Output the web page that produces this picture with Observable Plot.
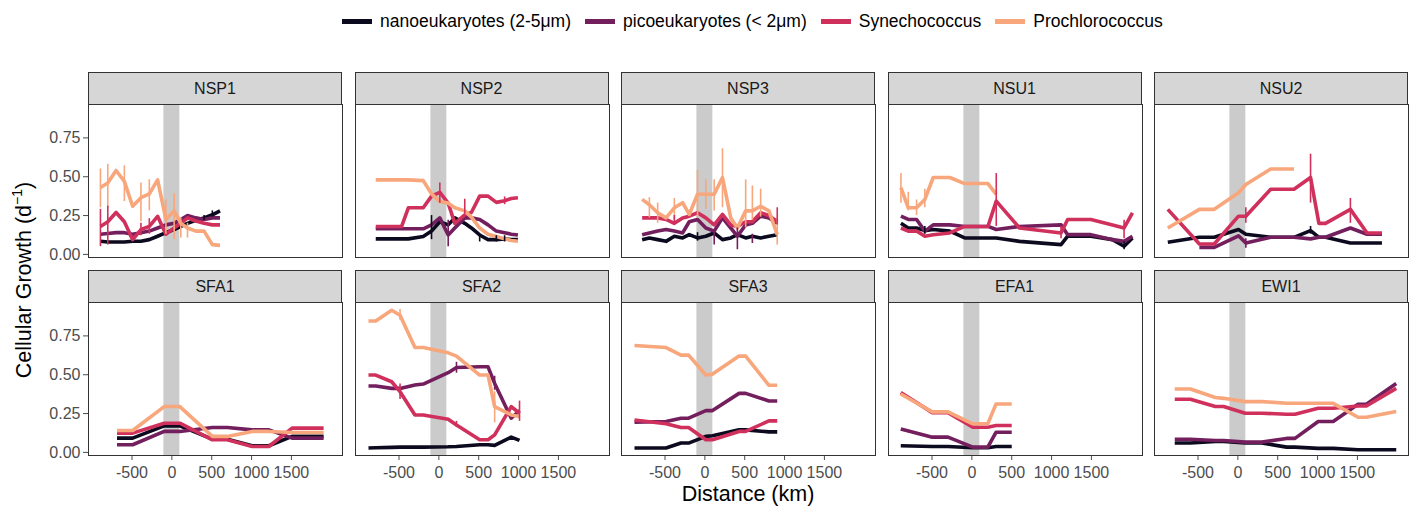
<!DOCTYPE html>
<html><head><meta charset="utf-8">
<script src="https://cdn.jsdelivr.net/npm/d3@7"></script>
<script src="https://cdn.jsdelivr.net/npm/@observablehq/plot@0.6"></script>
<style>
body{margin:0;background:#fff;font-family:"Liberation Sans",Arial,Helvetica,sans-serif;}
#root{position:relative;width:1412px;height:506px;overflow:hidden;background:#fff;}
.strip{position:absolute;box-sizing:border-box;background:#d6d6d6;border:1px solid #333;font-size:16px;color:#1a1a1a;display:flex;align-items:center;justify-content:center;}
.pl{position:absolute;}
#legend{position:absolute;top:11px;left:342px;display:flex;align-items:center;font-size:17.5px;color:#000;white-space:nowrap;}
#legend .item{display:flex;align-items:center;margin-right:14px;}
#legend .sw{width:30px;height:5px;margin-right:8px;}
.title{position:absolute;font-size:21.5px;color:#000;white-space:nowrap;}
</style></head><body><div id="root"></div>
<script>
// ---------- data ----------
const seriesKeys = ["nano", "pico", "syn", "pro"];
const seriesLabels = ["nanoeukaryotes (2-5μm)", "picoeukaryotes (< 2μm)", "Synechococcus", "Prochlorococcus"];
const seriesColors = ["#0c0a1e", "#731f5e", "#d0305c", "#f8a67c"];
const panelNames = ["NSP1", "NSP2", "NSP3", "NSU1", "NSU2", "SFA1", "SFA2", "SFA3", "EFA1", "EWI1"];
const yTicks = [0, 0.25, 0.5, 0.75];
const xTicks = [-500, 0, 500, 1000, 1500];
const xDomain = [-1046, 2141];
const yDomain = [-0.02, 0.965];
const bandKm = [-100, 100];

const x_NSP1 = [-896,-804,-700,-596,-492,-388,-283,-179,-75,29,112,196,300,404,508,604];
const nano_NSP1 = [0.085,0.08,0.08,0.08,0.085,0.085,0.095,0.117,0.14,0.16,0.18,0.2,0.22,0.235,0.255,0.28];
const pico_NSP1 = [0.13,0.135,0.14,0.14,0.13,0.14,0.15,0.17,0.19,0.2,0.225,0.25,0.235,0.225,0.235,0.235];
const syn_NSP1 = [0.18,0.21,0.27,0.21,0.095,0.16,0.18,0.245,0.13,0.17,0.2,0.235,0.215,0.2,0.19,0.19];
const pro_NSP1 = [0.43,0.46,0.54,0.47,0.31,0.365,0.39,0.48,0.225,0.28,0.2,0.17,0.15,0.15,0.063,0.058];
const err_NSP1 = [["pro",-896,0.30,0.55],["pro",-804,0.30,0.58],["pro",-596,0.34,0.57],["pro",-388,0.21,0.46],["pro",-283,0.28,0.48],["pro",-75,0.13,0.35],["pro",29,0.095,0.39],["pro",112,0.105,0.235],["pro",196,0.105,0.2],["syn",-896,0.05,0.29],["syn",-804,0.06,0.31],["syn",-388,0.12,0.2],["syn",-283,0.13,0.23],["nano",404,0.22,0.25],["nano",508,0.24,0.28]];

const x_NSP2 = [-792,-467,-383,-196,-92,12,117,200,325,408,512,617,721,825,908,992];
const nano_NSP2 = [0.1,0.1,0.1,0.115,0.15,0.21,0.19,0.235,0.2,0.17,0.125,0.095,0.095,0.1,0.095,0.095];
const pico_NSP2 = [0.165,0.165,0.165,0.165,0.19,0.235,0.125,0.17,0.235,0.235,0.225,0.19,0.15,0.14,0.13,0.125];
const syn_NSP2 = [0.18,0.18,0.3,0.3,0.375,0.4,0.33,0.2,0.255,0.27,0.375,0.375,0.335,0.345,0.36,0.365];
const pro_NSP2 = [0.48,0.48,0.48,0.475,0.39,0.34,0.33,0.3,0.28,0.24,0.17,0.13,0.115,0.1,0.09,0.085];
const err_NSP2 = [["syn",12,0.33,0.46],["pico",117,0.05,0.22],["nano",-92,0.095,0.25],["syn",325,0.26,0.355],["nano",512,0.08,0.13],["nano",721,0.08,0.12],["nano",825,0.08,0.12],["syn",825,0.32,0.37]];

const x_NSP3 = [-787,-696,-592,-487,-383,-279,-196,-92,12,117,221,325,408,512,596,700,804,908];
const nano_NSP3 = [0.095,0.106,0.095,0.084,0.117,0.106,0.127,0.106,0.117,0.138,0.095,0.106,0.127,0.106,0.117,0.106,0.117,0.127];
const pico_NSP3 = [0.127,0.138,0.15,0.16,0.15,0.138,0.21,0.225,0.17,0.15,0.235,0.17,0.117,0.19,0.2,0.246,0.235,0.2];
const syn_NSP3 = [0.235,0.235,0.235,0.225,0.2,0.235,0.246,0.268,0.235,0.19,0.257,0.19,0.18,0.21,0.21,0.268,0.25,0.21];
const pro_NSP3 = [0.354,0.32,0.268,0.235,0.3,0.333,0.257,0.387,0.387,0.387,0.495,0.235,0.17,0.28,0.28,0.31,0.28,0.127];
const err_NSP3 = [["pro",-696,0.235,0.365],["pro",-592,0.2,0.33],["pro",-383,0.22,0.36],["pro",-92,0.235,0.54],["pro",12,0.29,0.48],["pro",117,0.28,0.48],["pro",221,0.3,0.68],["pro",512,0.17,0.48],["pro",596,0.22,0.44],["pro",700,0.24,0.42],["pro",908,0.06,0.235],["pico",117,0.06,0.15],["pico",408,0.03,0.17],["pico",596,0.07,0.13],["syn",-383,0.19,0.25],["syn",908,0.19,0.3],["nano",-92,0.085,0.14]];

const x_NSU1 = [-890,-798,-694,-590,-485,-277,-90,202,306,598,1119,1202,1494,1765,1910,2015];
const nano_NSU1 = [0.2,0.17,0.17,0.153,0.16,0.15,0.106,0.106,0.106,0.084,0.063,0.117,0.117,0.095,0.052,0.106];
const pico_NSU1 = [0.246,0.225,0.225,0.15,0.19,0.19,0.18,0.18,0.16,0.18,0.19,0.127,0.127,0.095,0.084,0.117];
const syn_NSU1 = [0.17,0.15,0.15,0.117,0.127,0.138,0.18,0.18,0.343,0.17,0.138,0.225,0.225,0.19,0.17,0.268];
const pro_NSU1 = [0.43,0.3,0.3,0.354,0.495,0.495,0.456,0.456,0.387,null,null,null,null,null,null,null];
const err_NSU1 = [["pro",-890,0.33,0.52],["pro",-798,0.28,0.4],["pro",-694,0.25,0.35],["pro",-590,0.3,0.42],["syn",306,0.18,0.52],["syn",1119,0.1,0.18],["syn",1910,0.1,0.22],["nano",-590,0.13,0.18],["nano",1910,0.03,0.08]];

const x_NSU2 = [-879,-483,-296,8,100,412,704,912,1017,1100,1412,1621,1808];
const nano_NSU2 = [0.078,0.11,0.11,0.16,0.13,0.11,0.11,0.153,0.11,0.11,0.073,0.073,0.073];
const pico_NSU2 = [null,0.045,0.045,0.12,0.073,0.11,0.11,0.1,0.11,0.11,0.17,0.13,0.13];
const syn_NSU2 = [0.29,0.067,0.067,0.246,0.246,0.419,0.419,0.495,0.2,0.2,0.29,0.138,0.138];
const pro_NSU2 = [0.17,0.29,0.29,0.397,0.45,0.55,0.55,null,null,null,null,null,null];
const err_NSU2 = [["syn",912,0.33,0.645],["syn",1412,0.2,0.36],["syn",100,0.2,0.3],["pico",100,0.04,0.1],["nano",912,0.13,0.18]];

const x_SFA1 = [-688,-492,-96,100,508,696,1008,1217,1508,1904];
const nano_SFA1 = [0.092,0.092,0.171,0.171,0.085,0.085,0.043,0.043,0.103,0.103];
const pico_SFA1 = [0.049,0.049,0.135,0.135,0.16,0.16,0.145,0.145,0.092,0.092];
const syn_SFA1 = [0.124,0.124,0.188,0.188,0.081,0.081,0.038,0.038,0.156,0.156];
const pro_SFA1 = [0.141,0.141,0.295,0.295,0.103,0.103,0.135,0.135,0.128,0.128];
const err_SFA1 = [];

const x_SFA2 = [-883,-792,-592,-487,-300,-196,117,221,512,617,700,908,1012];
const nano_SFA2 = [0.028,0.03,0.032,0.034,0.034,0.034,0.036,0.038,0.049,0.049,0.045,0.098,0.077];
const pico_SFA2 = [0.427,0.427,0.412,0.412,0.434,0.44,0.513,0.547,0.551,0.551,0.444,0.22,0.269];
const syn_SFA2 = [0.498,0.498,0.455,0.391,0.241,0.241,0.214,0.177,0.081,0.081,0.113,0.295,0.252];
const pro_SFA2 = [0.846,0.846,0.915,0.883,0.675,0.675,0.641,0.62,0.498,0.498,0.295,0.241,0.231];
const err_SFA2 = [["syn",-487,0.34,0.44],["pico",221,0.51,0.58],["pro",-487,0.85,0.92],["pro",700,0.19,0.39],["pico",700,0.4,0.49],["syn",1012,0.2,0.33],["syn",221,0.16,0.2]];

const x_SFA3 = [-883,-487,-300,-204,12,96,429,512,804,908];
const nano_SFA3 = [0.028,0.028,0.06,0.06,0.103,0.107,0.145,0.145,0.132,0.132];
const pico_SFA3 = [0.194,0.199,0.22,0.22,0.269,0.269,0.38,0.38,0.331,0.331];
const syn_SFA3 = [0.209,0.184,0.16,0.16,0.081,0.081,0.135,0.135,0.203,0.203];
const pro_SFA3 = [0.688,0.675,0.626,0.626,0.498,0.504,0.62,0.62,0.432,0.432];
const err_SFA3 = [];

const x_EFA1 = [-892,-496,-300,12,200,304,500];
const nano_EFA1 = [0.043,0.038,0.038,0.03,0.03,0.038,0.038];
const pico_EFA1 = [0.15,0.098,0.098,0.034,0.034,0.13,0.13];
const syn_EFA1 = [0.385,0.256,0.256,0.162,0.162,0.173,0.173];
const pro_EFA1 = [0.376,0.261,0.261,0.184,0.184,0.312,0.312];
const err_EFA1 = [];

const x_EWI1 = [-792,-596,-283,-179,92,300,612,717,1008,1196,1508,1612,1987];
const nano_EWI1 = [0.06,0.06,0.07,0.07,0.06,0.06,0.034,0.034,0.026,0.026,0.017,0.017,0.017];
const pico_EWI1 = [0.085,0.085,0.077,0.077,0.066,0.066,0.09,0.09,0.199,0.199,0.31,0.31,0.444];
const syn_EWI1 = [0.342,0.342,0.295,0.295,0.252,0.252,0.246,0.246,0.284,0.284,0.299,0.299,0.412];
const pro_EWI1 = [0.408,0.408,0.353,0.348,0.327,0.327,0.316,0.316,0.316,0.316,0.226,0.226,0.263];
const err_EWI1 = [];

// ---------- assemble ----------
const panelArrays = {
  NSP1: [x_NSP1, nano_NSP1, pico_NSP1, syn_NSP1, pro_NSP1, err_NSP1],
  NSP2: [x_NSP2, nano_NSP2, pico_NSP2, syn_NSP2, pro_NSP2, err_NSP2],
  NSP3: [x_NSP3, nano_NSP3, pico_NSP3, syn_NSP3, pro_NSP3, err_NSP3],
  NSU1: [x_NSU1, nano_NSU1, pico_NSU1, syn_NSU1, pro_NSU1, err_NSU1],
  NSU2: [x_NSU2, nano_NSU2, pico_NSU2, syn_NSU2, pro_NSU2, err_NSU2],
  SFA1: [x_SFA1, nano_SFA1, pico_SFA1, syn_SFA1, pro_SFA1, err_SFA1],
  SFA2: [x_SFA2, nano_SFA2, pico_SFA2, syn_SFA2, pro_SFA2, err_SFA2],
  SFA3: [x_SFA3, nano_SFA3, pico_SFA3, syn_SFA3, pro_SFA3, err_SFA3],
  EFA1: [x_EFA1, nano_EFA1, pico_EFA1, syn_EFA1, pro_EFA1, err_EFA1],
  EWI1: [x_EWI1, nano_EWI1, pico_EWI1, syn_EWI1, pro_EWI1, err_EWI1]
};

// ---------- layout ----------
const root = document.getElementById("root");
const colLeft = [88, 354.5, 621, 887.5, 1154];
const stripTop = [72, 270];
const stripH = 32, bodyH = 153, panelW = 254;
const mL = 50, mB = 32, mT = 1, mR = 1;

// legend
const legend = document.createElement("div");
legend.id = "legend";
seriesKeys.forEach((k, i) => {
  const it = document.createElement("div"); it.className = "item";
  const sw = document.createElement("span"); sw.className = "sw"; sw.style.background = seriesColors[i];
  const tx = document.createElement("span"); tx.textContent = seriesLabels[i];
  it.appendChild(sw); it.appendChild(tx); legend.appendChild(it);
});
root.appendChild(legend);

panelNames.forEach((name, idx) => {
  const row = Math.floor(idx / 5), col = idx % 5;
  const [xs, nano, pico, syn, pro, errs] = panelArrays[name];
  const vals = {nano, pico, syn, pro};
  const rows = [];
  seriesKeys.forEach(k => xs.forEach((x, j) => {
    const v = vals[k][j];
    if (v != null) rows.push({series: k, x, y: v});
  }));
  const errRows = errs.map(([series, x, lo, hi]) => ({series, x, lo, hi}));

  // strip
  const st = document.createElement("div");
  st.className = "strip";
  st.style.left = colLeft[col] + "px";
  st.style.top = stripTop[row] + "px";
  st.style.width = panelW + "px";
  st.style.height = (stripH + 1) + "px";
  st.textContent = name;
  root.appendChild(st);

  const plot = Plot.plot({
    width: mL + panelW + mR,
    height: mT + bodyH + mB,
    marginLeft: mL, marginRight: mR, marginTop: mT, marginBottom: mB,
    style: {background: "transparent", fontSize: "16px", fontFamily: "Liberation Sans, Arial, sans-serif", color: "#4d4d4d", overflow: "visible"},
    x: {domain: xDomain, ticks: xTicks, tickFormat: d => String(d), axis: row === 1 ? "bottom" : null, label: null, tickSize: 5, tickPadding: 6},
    y: {domain: yDomain, ticks: yTicks, tickFormat: d3.format(".2f"), axis: col === 0 ? "left" : null, label: null, tickSize: 5, tickPadding: 3},
    color: {domain: seriesKeys, range: seriesColors},
    marks: [
      Plot.rect([bandKm], {x1: d => d[0], x2: d => d[1], y1: () => yDomain[0], y2: () => yDomain[1], fill: "#cbcbcb"}),
      Plot.line(rows, {x: "x", y: "y", z: "series", stroke: "series", strokeWidth: 3.6, strokeLinejoin: "round", strokeLinecap: "butt"}),
      Plot.ruleX(errRows, {x: "x", y1: "lo", y2: "hi", stroke: "series", strokeWidth: 1.6}),
      Plot.frame({stroke: "#333", strokeWidth: 1})
    ]
  });
  plot.classList.add("pl");
  plot.style.left = (colLeft[col] - mL) + "px";
  plot.style.top = (stripTop[row] + stripH - mT) + "px";
  plot.style.maxWidth = "none";
  root.appendChild(plot);
});

// axis titles
const xt = document.createElement("div");
xt.className = "title"; xt.textContent = "Distance (km)";
xt.style.left = "748px"; xt.style.top = "494px"; xt.style.transform = "translate(-50%,-50%)";
root.appendChild(xt);
const yt = document.createElement("div");
yt.className = "title"; yt.innerHTML = "Cellular Growth (d<sup style='font-size:14px'>−1</sup>)";
yt.style.left = "23px"; yt.style.top = "280px"; yt.style.transform = "translate(-50%,-50%) rotate(-90deg)";
root.appendChild(yt);
</script></body></html>
